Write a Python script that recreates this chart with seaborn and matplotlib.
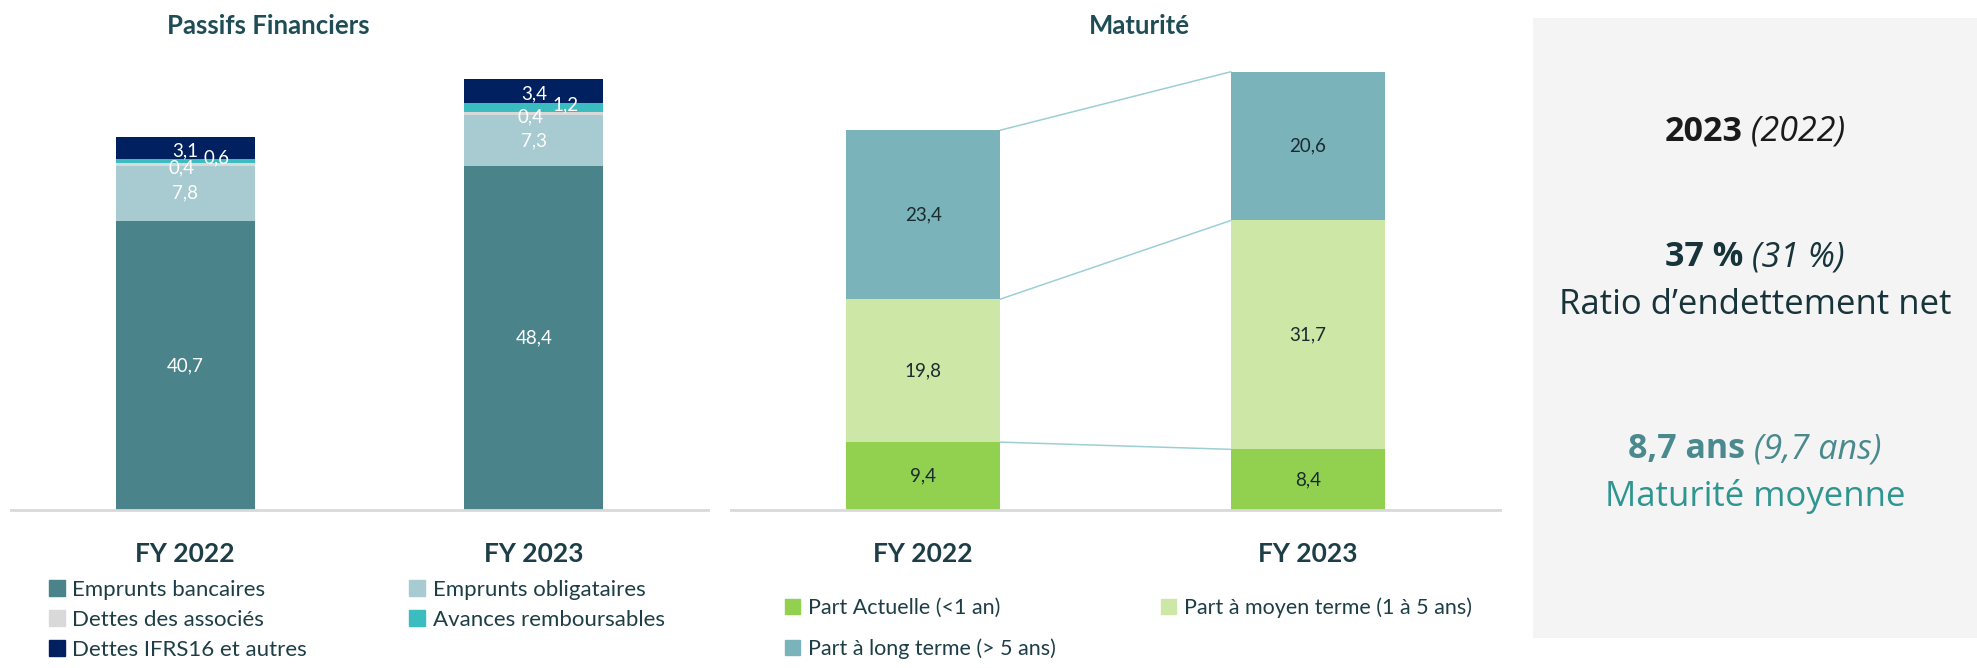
import pandas as pd
import seaborn as sns
import matplotlib.pyplot as plt
from matplotlib.patches import Rectangle

# ── data ────────────────────────────────────────────────────────────────────
years = ["FY 2022", "FY 2023"]

passifs_series = ["Emprunts bancaires", "Emprunts obligataires", "Dettes des associés",
                  "Avances remboursables", "Dettes IFRS16 et autres"]
emprunts_bancaires = [40.7, 48.4]
emprunts_obligataires = [7.8, 7.3]
dettes_associes = [0.4, 0.4]
avances_remboursables = [0.6, 1.2]
dettes_ifrs16 = [3.1, 3.4]

maturite_series = ["Part Actuelle (<1 an)", "Part à moyen terme (1 à 5 ans)",
                   "Part à long terme (> 5 ans)"]
part_actuelle = [9.4, 8.4]
part_moyen_terme = [19.8, 31.7]
part_long_terme = [23.4, 20.6]

kpi_ratio = ("37 %", "(31 %)")
kpi_maturite = ("8,7 ans", "(9,7 ans)")

# ── style ───────────────────────────────────────────────────────────────────
sns.set_style("white")
plt.rcParams['font.family'] = ['Lato', 'DejaVu Sans']

passifs_colors = ["#4a838a", "#a8cbd1", "#d9d9d9", "#3bbcbf", "#00205f"]
maturite_colors = ["#92d050", "#cde8a6", "#7bb3bb"]
dark = "#1d3e46"
W, H = 1977, 668

fig = plt.figure(figsize=(W / 100, H / 100), dpi=100)


def px_axes(x0, x1, y_top, y_bottom):
    return fig.add_axes([x0 / W, (H - y_bottom) / H, (x1 - x0) / W, (y_bottom - y_top) / H])


def fmt(v):
    return f"{v:.1f}".replace(".", ",")


def stacked(ax, names, values, colors, width, label_color, offsets):
    df = pd.DataFrame(dict(zip(names, values)))
    cum = df.cumsum(axis=1)
    cum["year"] = years
    # draw cumulative totals from the top series down, so each one covers the next
    for name, color in reversed(list(zip(names, colors))):
        sns.barplot(data=cum, x="year", y=name, color=color, width=width,
                    saturation=1, errorbar=None, linewidth=0, ax=ax)
    for name in names:
        dx, dy = offsets.get(name, (0, 0))
        for i in range(len(years)):
            v = df[name][i]
            ax.text(i + dx, cum[name][i] - v / 2 + dy, fmt(v), ha="center", va="center",
                    color=label_color, fontsize=13.5)
    return cum


def style_axis(ax, ymax):
    ax.set_xlim(-0.5, 1.5)
    ax.set_ylim(0, ymax)
    ax.set_xlabel("")
    ax.set_ylabel("")
    ax.set_yticks([])
    for s in ["left", "right", "top"]:
        ax.spines[s].set_visible(False)
    ax.spines["bottom"].set_color("#d9d9d9")
    ax.spines["bottom"].set_linewidth(2)
    ax.tick_params(axis="x", length=0, pad=23)
    for lab in ax.get_xticklabels():
        lab.set_fontweight("bold")
        lab.set_fontsize(19)
        lab.set_color(dark)
    ax.set_facecolor("none")


# ── Passifs financiers ─────────────────────────────────────────────────────
ax1 = px_axes(11, 708, 40, 510)
stacked(ax1, passifs_series,
        [emprunts_bancaires, emprunts_obligataires, dettes_associes,
         avances_remboursables, dettes_ifrs16],
        passifs_colors, 0.4, "white",
        {"Dettes des associés": (-0.01, -0.5), "Avances remboursables": (0.09, 0.4),
         "Dettes IFRS16 et autres": (0.0, -0.4)})
style_axis(ax1, 470 / 7.1)

# ── Maturité ───────────────────────────────────────────────────────────────
ax2 = px_axes(731, 1500, 40, 510)
cum2 = stacked(ax2, maturite_series, [part_actuelle, part_moyen_terme, part_long_terme],
               maturite_colors, 0.4, "#1a2b30", {})
for name in maturite_series:
    ax2.plot([0.2, 0.8], [cum2[name][0], cum2[name][1]], color="#9ccfd3", lw=1.1, zorder=0)
style_axis(ax2, 470 / 7.22)

# titles
for x, title in [(268, "Passifs Financiers"), (1139, "Maturité")]:
    fig.text(x / W, 1 - 26 / H, title, ha="center", va="center",
             fontsize=18.5, fontweight="bold", color="#1e4d55")

# legends
leg_kw = dict(frameon=False, handlelength=0.7, handleheight=0.7, handletextpad=0.35,
              labelcolor=dark, borderaxespad=0, borderpad=0)
h1 = [Rectangle((0, 0), 1, 1, color=c) for c in passifs_colors]
order1 = [0, 2, 4, 1, 3]
fig.legend([h1[i] for i in order1], [passifs_series[i] for i in order1], ncol=2,
           loc="upper left", bbox_to_anchor=(49 / W, 1 - 580 / H), fontsize=16,
           labelspacing=0.45, columnspacing=4.6, **leg_kw)

h2 = [Rectangle((0, 0), 1, 1, color=c) for c in maturite_colors]
order2 = [0, 2, 1]
fig.legend([h2[i] for i in order2], [maturite_series[i] for i in order2], ncol=2,
           loc="upper left", bbox_to_anchor=(785 / W, 1 - 597 / H), fontsize=15.5,
           labelspacing=0.95, columnspacing=4.9, **leg_kw)

# ── KPI panel ──────────────────────────────────────────────────────────────
fig.add_artist(Rectangle((1533 / W, (H - 638) / H), (W - 1533) / W, 620 / H,
                         transform=fig.transFigure, facecolor="#f4f4f4", edgecolor="none",
                         zorder=0))
cx = (1533 + W) / 2
renderer = fig.canvas.get_renderer()
kpi_font = ['Open Sans', 'DejaVu Sans']


def two_part(y, bold_txt, ital_txt, color, size=24.5):
    t1 = fig.text(0, 1 - y / H, bold_txt, fontweight="bold", color=color, fontsize=size,
                  va="center", ha="left", family=kpi_font)
    t2 = fig.text(0, 1 - y / H, "\u00a0" + ital_txt, style="italic", color=color,
                  fontsize=size, va="center", ha="left", family=kpi_font)
    w1 = t1.get_window_extent(renderer).width
    w2 = t2.get_window_extent(renderer).width
    x0 = cx - (w1 + w2) / 2
    t1.set_x(x0 / W)
    t2.set_x((x0 + w1) / W)


two_part(132, "2023", "(2022)", "#1a1a1a")
two_part(257, kpi_ratio[0], kpi_ratio[1], "#17343b")
fig.text(cx / W, 1 - 305 / H, "Ratio d\u2019endettement net", ha="center", va="center",
         fontsize=25, color="#17343b", family=kpi_font)
two_part(449, kpi_maturite[0], kpi_maturite[1], "#4a8a8e")
fig.text(cx / W, 1 - 496 / H, "Maturité moyenne", ha="center", va="center",
         fontsize=25, color="#2e9590", family=kpi_font)

fig.savefig("out.png", dpi=100)
